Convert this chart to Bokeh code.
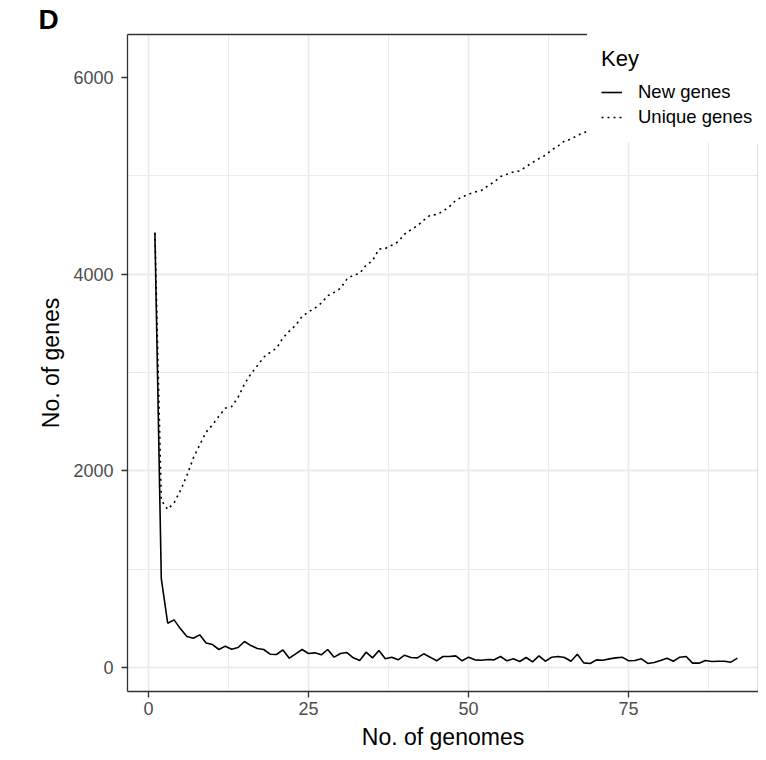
from bokeh.plotting import figure
from bokeh.models import (Range1d, SingleIntervalTicker, FixedTicker, LinearAxis,
                          Legend, LegendItem, Title)
from bokeh.embed import file_html
from bokeh.resources import INLINE

FONT = "Liberation Sans"

genomes = list(range(1, 93))
new_genes = [4420, 904, 450, 484, 393, 315, 298, 332, 250, 233,
             183, 217, 186, 203, 264, 223, 193, 183, 135, 132,
             179, 95, 139, 183, 142, 149, 129, 183, 105, 142,
             152, 98, 71, 156, 98, 173, 88, 105, 78, 125,
             102, 98, 139, 105, 68, 112, 112, 118, 68, 105,
             78, 74, 81, 78, 112, 68, 88, 61, 102, 58,
             118, 64, 105, 112, 102, 64, 135, 47, 41, 78,
             74, 88, 98, 105, 68, 71, 88, 41, 51, 71,
             95, 64, 105, 112, 44, 44, 71, 61, 64, 64,
             54, 95]
unique_genes = [4420, 1700, 1607, 1675, 1800, 1952, 2129, 2264, 2393, 2467,
                2555, 2636, 2653, 2748, 2883, 2985, 3069, 3154, 3205, 3245,
                3350, 3420, 3480, 3570, 3615, 3655, 3705, 3780, 3814, 3855,
                3949, 3990, 4007, 4091, 4135, 4254, 4261, 4294, 4328, 4406,
                4450, 4491, 4548, 4599, 4605, 4638, 4685, 4750, 4785, 4812,
                4836, 4850, 4897, 4937, 4992, 5015, 5039, 5049, 5093, 5134,
                5174, 5208, 5262, 5303, 5353, 5371, 5411, 5438, 5465, 5490,
                5530, 5555, 5590, 5620, 5650, 5672, 5700, 5735, 5760, 5790,
                5820, 5850, 5880, 5905, 5935, 5960, 5990, 6020, 6050, 6085,
                6115, 6150]

x_label = "No. of genomes"
y_label = "No. of genes"
series_labels = ["New genes", "Unique genes"]
legend_title = "Key"
panel_tag = "D"

BORDER = "#333333"
X0, X1 = -3.28, 95.3
Y0, Y1 = -244, 6436

p = figure(width=758, height=752, output_backend="svg", toolbar_location=None,
           x_range=Range1d(X0, X1), y_range=Range1d(Y0, Y1),
           min_border_left=127, min_border_right=0, min_border_top=34,
           min_border_bottom=60)
p.background_fill_color = "white"
p.border_fill_color = "white"
p.outline_line_color = None

r_new = p.line(genomes, new_genes, line_color="black", line_width=1.6)
r_uni = p.line(genomes, unique_genes, line_color="black", line_width=1.6,
               line_dash="2 4")

xt = SingleIntervalTicker(interval=25, num_minor_ticks=2)
yt = SingleIntervalTicker(interval=2000, num_minor_ticks=2)
p.xaxis.ticker = xt
p.yaxis.ticker = yt
p.xgrid.ticker = xt
p.ygrid.ticker = yt

for ax in (p.xaxis[0], p.yaxis[0]):
    ax.axis_line_color = BORDER
    ax.axis_line_width = 1.3
    ax.major_tick_line_color = BORDER
    ax.major_tick_line_width = 1.3
    ax.major_tick_out = 6
    ax.major_tick_in = 0
    ax.minor_tick_line_color = None
    ax.major_label_text_font = FONT
    ax.major_label_text_font_size = "18px"
    ax.major_label_text_color = "#4D4D4D"
    ax.axis_label_text_font = FONT
    ax.axis_label_text_font_size = "23px"
    ax.axis_label_text_font_style = "normal"
    ax.axis_label_text_color = "black"
p.xaxis.axis_label = x_label
p.yaxis.axis_label = y_label
p.xaxis.major_label_standoff = 4
p.xaxis.axis_label_standoff = 6
p.yaxis.major_label_standoff = 8
p.yaxis.axis_label_standoff = 6

# remaining panel border sides, stopping where the key box covers the panel
key_left_x = 68.6     # data x where the key box begins
key_bottom_y = 5330   # data y where the key box ends
top_border = LinearAxis(ticker=FixedTicker(ticks=[]), bounds=(X0, key_left_x),
                        axis_line_color=BORDER, axis_line_width=1.3,
                        major_tick_line_color=None, minor_tick_line_color=None,
                        major_tick_out=0, major_label_standoff=0,
                        major_label_text_font_size="0px")
right_border = LinearAxis(ticker=FixedTicker(ticks=[]), bounds=(Y0, key_bottom_y),
                          axis_line_color=BORDER, axis_line_width=1.3,
                          major_tick_line_color=None, minor_tick_line_color=None,
                          major_tick_out=0, major_label_standoff=0,
                          major_label_text_font_size="0px")
p.add_layout(top_border, "above")
p.add_layout(right_border, "right")

for g in (p.xgrid[0], p.ygrid[0]):
    g.grid_line_color = "#EBEBEB"
    g.grid_line_width = 1.8
    g.minor_grid_line_color = "#EBEBEB"
    g.minor_grid_line_width = 1.0

legend = Legend(
    items=[LegendItem(label=series_labels[0], renderers=[r_new]),
           LegendItem(label=series_labels[1], renderers=[r_uni])],
    title=legend_title, location=(460, 549), margin=0, padding=13,
    title_text_font=FONT, title_text_font_size="22px",
    title_text_font_style="normal", title_text_color="black", title_standoff=9,
    label_text_font=FONT, label_text_font_size="18.5px", label_text_color="black",
    label_standoff=16, glyph_width=21, glyph_height=22, label_height=22,
    spacing=3, border_line_color="white", border_line_width=1,
    background_fill_color="white", background_fill_alpha=1.0)
p.add_layout(legend)

# panel tag in the top margin, left of the panel
p.add_layout(Title(text=panel_tag, align="left", offset=-89, standoff=0,
                   text_font=FONT, text_font_size="28px",
                   text_font_style="bold", text_color="black"), "above")

open("out.html", "w").write(file_html(p, INLINE))
